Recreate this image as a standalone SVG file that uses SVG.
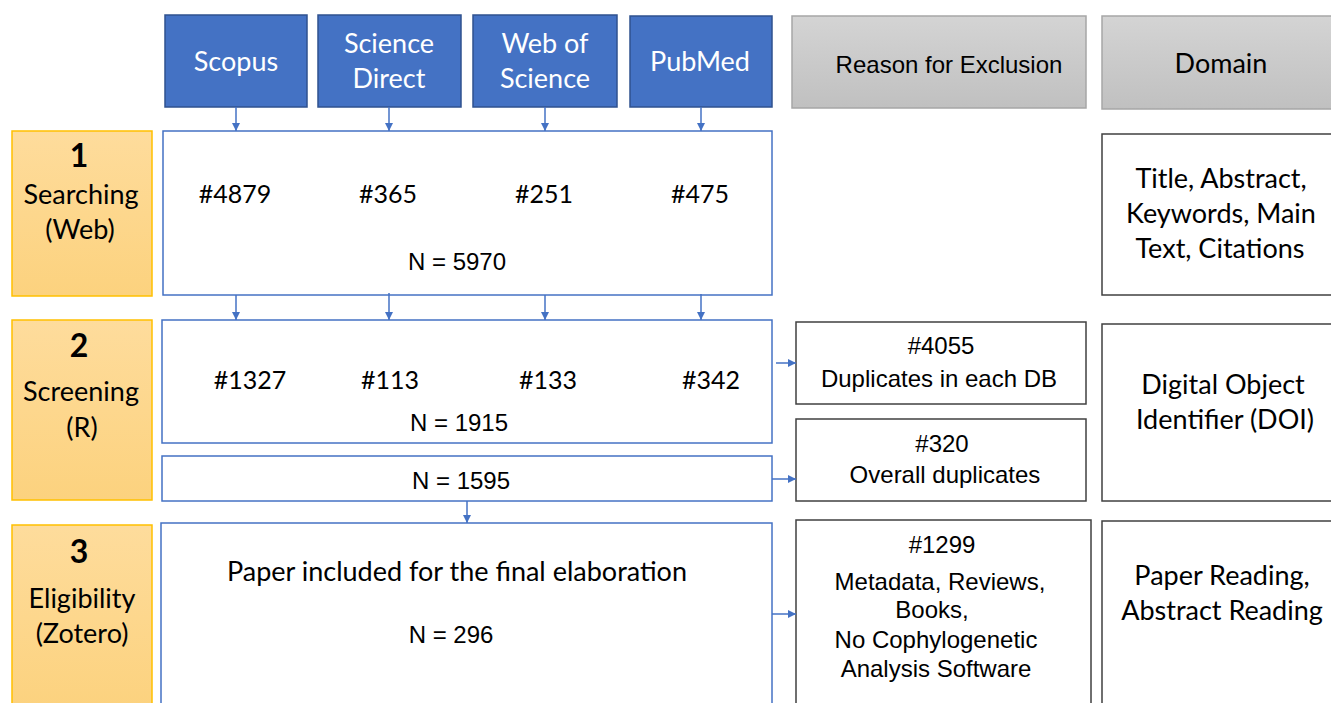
<svg xmlns="http://www.w3.org/2000/svg" width="1331" height="703" viewBox="0 0 1331 703">
<style>
.db{fill:#4472C4;stroke:#2F528F;stroke-width:1.5}
.gr{fill:url(#gg);stroke:#A6A6A6;stroke-width:1.5}
.st{fill:url(#og);stroke:#FFC000;stroke-width:1.5}
.bx{fill:#fff;stroke:#4472C4;stroke-width:1.5}
.kx{fill:#fff;stroke:#404040;stroke-width:1.5}
.cw{font-family:Lato,'Open Sans',sans-serif;font-size:27px;fill:#fff;text-anchor:middle}
.cb{font-family:Lato,'Open Sans',sans-serif;font-size:27px;fill:#000;text-anchor:middle}
.nm{font-family:Lato,'Open Sans',sans-serif;font-size:25px;fill:#000;text-anchor:middle}
.cn{font-family:Lato,'Open Sans',sans-serif;font-size:32px;font-weight:bold;fill:#000;text-anchor:middle}
.ar{font-family:'Liberation Sans',Arial,sans-serif;font-size:24px;fill:#000;text-anchor:middle}
.cl{stroke:#4472C4;stroke-width:1.5;fill:none;marker-end:url(#ah)}
</style>
<defs>
<linearGradient id="gg" x1="0" y1="0" x2="0" y2="1"><stop offset="0" stop-color="#D4D4D4"/><stop offset="1" stop-color="#C0C0C0"/></linearGradient>
<linearGradient id="og" x1="0" y1="0" x2="0" y2="1"><stop offset="0" stop-color="#FEDC9C"/><stop offset="1" stop-color="#FCD27E"/></linearGradient>
<marker id="ah" viewBox="0 0 10 10" refX="10" refY="5" markerWidth="8" markerHeight="8" markerUnits="userSpaceOnUse" orient="auto"><path d="M0,0 L10,5 L0,10 z" fill="#4472C4"/></marker>
</defs>

<g id="scopus"><rect class="db" x="165" y="15" width="142" height="92"/><text class="cw" x="236" y="71">Scopus</text></g>
<g id="sciencedirect"><rect class="db" x="318" y="15" width="143" height="92"/><text class="cw" x="389" y="53">Science</text><text class="cw" x="389" y="88">Direct</text></g>
<g id="webofscience"><rect class="db" x="473" y="15" width="144" height="92"/><text class="cw" x="545" y="53">Web of</text><text class="cw" x="545" y="88">Science</text></g>
<g id="pubmed"><rect class="db" x="630" y="16" width="142" height="91"/><text class="cw" x="700" y="71">PubMed</text></g>
<g id="reason-header"><rect class="gr" x="792" y="16" width="294" height="92"/><text class="ar" x="949" y="73">Reason for Exclusion</text></g>
<g id="domain-header"><rect class="gr" x="1102" y="16" width="235" height="93"/><text class="cb" x="1221" y="73">Domain</text></g>

<g id="stage1"><rect class="st" x="12" y="131" width="140" height="165"/><text class="cn" x="79" y="167">1</text><text class="cb" x="81" y="204">Searching</text><text class="cb" x="80" y="239">(Web)</text></g>
<g id="stage2"><rect class="st" x="12" y="320" width="140" height="180"/><text class="cn" x="79" y="357">2</text><text class="cb" x="81" y="401">Screening</text><text class="cb" x="82" y="437">(R)</text></g>
<g id="stage3"><rect class="st" x="12" y="525" width="140" height="185"/><text class="cn" x="79" y="563">3</text><text class="cb" x="82" y="608">Eligibility</text><text class="cb" x="82" y="643">(Zotero)</text></g>

<g id="search-box"><rect class="bx" x="163" y="131" width="609" height="164"/>
<text class="nm" x="235" y="203">#4879</text><text class="nm" x="388" y="203">#365</text><text class="nm" x="544" y="203">#251</text><text class="nm" x="700" y="203">#475</text>
<text class="ar" x="457" y="270">N = 5970</text></g>

<g id="screen-box"><rect class="bx" x="162" y="320" width="610" height="123"/>
<text class="nm" x="250" y="389">#1327</text><text class="nm" x="390" y="389">#113</text><text class="nm" x="548" y="389">#133</text><text class="nm" x="711" y="389">#342</text>
<text class="ar" x="459" y="431">N = 1915</text></g>

<g id="dedup-box"><rect class="bx" x="162" y="456" width="610" height="45"/><text class="ar" x="461" y="489">N = 1595</text></g>

<g id="eligible-box"><rect class="bx" x="161" y="523" width="611" height="190"/>
<text class="cb" x="457" y="581">Paper included for the final elaboration</text>
<text class="ar" x="451" y="643">N = 296</text></g>

<g id="excl-4055"><rect class="kx" x="796" y="322" width="290" height="82"/><text class="ar" x="941" y="354">#4055</text><text class="ar" x="939" y="387">Duplicates in each DB</text></g>
<g id="excl-320"><rect class="kx" x="796" y="419" width="290" height="82"/><text class="ar" x="942" y="452">#320</text><text class="ar" x="945" y="483">Overall duplicates</text></g>
<g id="excl-1299"><rect class="kx" x="796" y="520" width="295" height="200"/><text class="ar" x="942" y="553">#1299</text><text class="ar" x="940" y="590">Metadata, Reviews,</text><text class="ar" x="932" y="618">Books,</text><text class="ar" x="936" y="648">No Cophylogenetic</text><text class="ar" x="936" y="677">Analysis Software</text></g>

<g id="domain-1"><rect class="kx" x="1102" y="134" width="235" height="161"/><text class="cb" x="1221" y="188">Title, Abstract,</text><text class="cb" x="1221" y="223">Keywords, Main</text><text class="cb" x="1220" y="258">Text, Citations</text></g>
<g id="domain-2"><rect class="kx" x="1102" y="324" width="235" height="177"/><text class="cb" x="1223" y="394">Digital Object</text><text class="cb" x="1225" y="429">Identifier (DOI)</text></g>
<g id="domain-3"><rect class="kx" x="1102" y="521" width="235" height="200"/><text class="cb" x="1222" y="585">Paper Reading,</text><text class="cb" x="1222" y="620">Abstract Reading</text></g>

<g id="connectors">
<line class="cl" x1="236" y1="107" x2="236" y2="131"/>
<line class="cl" x1="389" y1="107" x2="389" y2="131"/>
<line class="cl" x1="545" y1="107" x2="545" y2="131"/>
<line class="cl" x1="701" y1="107" x2="701" y2="131"/>
<line class="cl" x1="236" y1="295" x2="236" y2="320"/>
<line class="cl" x1="389" y1="293" x2="389" y2="320"/>
<line class="cl" x1="545" y1="295" x2="545" y2="320"/>
<line class="cl" x1="701" y1="294" x2="701" y2="320"/>
<line class="cl" x1="467" y1="501" x2="467" y2="523"/>
<line class="cl" x1="776" y1="363" x2="796" y2="363"/>
<line class="cl" x1="772" y1="479" x2="796" y2="479"/>
<line class="cl" x1="772" y1="614" x2="796" y2="614"/>
</g>
</svg>
